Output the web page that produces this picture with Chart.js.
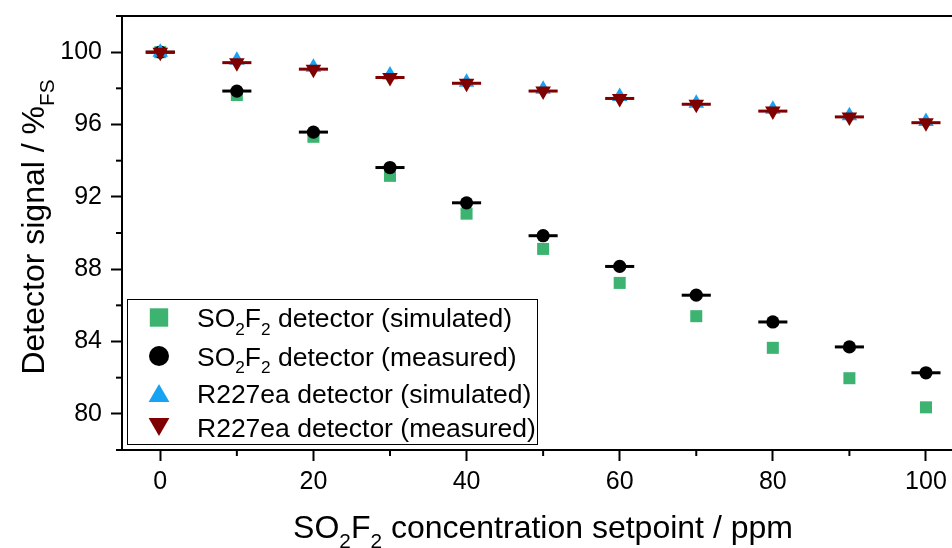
<!DOCTYPE html>
<html>
<head>
<meta charset="utf-8">
<script src="https://cdn.jsdelivr.net/npm/chart.js@4.4.0/dist/chart.umd.min.js"></script>
<style>
  html, body { margin: 0; padding: 0; background: #fff; }
</style>
</head>
<body>
<canvas id="chart" width="952" height="548"></canvas>
<script>
// setpoints in ppm
const setpoints = [0, 10, 20, 30, 40, 50, 60, 70, 80, 90, 100];

// detector signal in %FS
const so2f2Simulated = [100, 97.63, 95.32, 93.16, 91.07, 89.12, 87.24, 85.40, 83.65, 81.97, 80.36];
const so2f2Measured  = [100, 97.85, 95.58, 93.62, 91.67, 89.85, 88.15, 86.56, 85.08, 83.70, 82.27];
const r227Simulated  = [100, 99.55, 99.16, 98.74, 98.34, 97.95, 97.55, 97.18, 96.85, 96.49, 96.16];
const r227Measured   = [100, 99.42, 99.06, 98.60, 98.28, 97.85, 97.44, 97.12, 96.74, 96.42, 96.10];

// horizontal error (ppm) of the measured points
const so2f2SetpointErr = [1.9, 1.9, 1.9, 1.9, 1.9, 1.9, 1.9, 1.9, 1.9, 1.9, 1.9];
const r227SetpointErr  = [1.9, 1.9, 1.9, 1.9, 1.9, 1.9, 1.9, 1.9, 1.9, 1.9, 1.9];

const xMajorTicks = [0, 20, 40, 60, 80, 100];
const xMinorTicks = [10, 30, 50, 70, 90];
const yMajorTicks = [80, 84, 88, 92, 96, 100];
const yMinorTicks = [78, 82, 86, 90, 94, 98, 102];

const xTitle = 'SO_{2}F_{2} concentration setpoint / ppm';
const yTitle = 'Detector signal / %_{FS}';

const FONT = "'Liberation Sans', Arial, sans-serif";
Chart.defaults.font.family = FONT;
Chart.defaults.color = '#000';

// split "A_{b}C" into [text, isSub] parts
function parseRich(str) {
  const parts = [];
  const re = /_\{([^}]*)\}/g;
  let last = 0, m;
  while ((m = re.exec(str)) !== null) {
    if (m.index > last) parts.push([str.slice(last, m.index), false]);
    parts.push([m[1], true]);
    last = re.lastIndex;
  }
  if (last < str.length) parts.push([str.slice(last), false]);
  return parts;
}

function drawRich(ctx, str, x, y, size, align) {
  const parts = parseRich(str);
  const subSize = size * 0.65;
  let total = 0;
  for (const [t, sub] of parts) {
    ctx.font = (sub ? subSize : size) + 'px ' + FONT;
    total += ctx.measureText(t).width;
  }
  let cx = align === 'center' ? x - total / 2 : x;
  ctx.textAlign = 'left';
  ctx.textBaseline = 'alphabetic';
  for (const [t, sub] of parts) {
    ctx.font = (sub ? subSize : size) + 'px ' + FONT;
    ctx.fillText(t, cx, sub ? y + size * 0.3 : y);
    cx += ctx.measureText(t).width;
  }
}

const errorBars = {
  id: 'errorBars',
  afterDatasetDraw(chart, args) {
    const ds = chart.data.datasets[args.index];
    if (!ds.xErr) return;
    const xs = chart.scales.x, ys = chart.scales.y;
    const ctx = chart.ctx;
    ctx.save();
    ctx.strokeStyle = ds.errColor;
    ctx.lineWidth = 3;
    ds.data.forEach((p, i) => {
      const y = ys.getPixelForValue(p.y);
      ctx.beginPath();
      ctx.moveTo(xs.getPixelForValue(p.x - ds.xErr[i]), y);
      ctx.lineTo(xs.getPixelForValue(p.x + ds.xErr[i]), y);
      ctx.stroke();
    });
    ctx.restore();
  }
};

const frameAndText = {
  id: 'frameAndText',
  afterDraw(chart) {
    const ctx = chart.ctx;
    const a = chart.chartArea;
    const xs = chart.scales.x, ys = chart.scales.y;
    ctx.save();
    ctx.strokeStyle = '#000';
    // top frame line
    ctx.lineWidth = 2;
    ctx.beginPath();
    ctx.moveTo(a.left - 1, a.top);
    ctx.lineTo(a.right, a.top);
    ctx.stroke();
    // minor ticks
    for (const v of xMinorTicks) {
      const px = xs.getPixelForValue(v);
      ctx.beginPath();
      ctx.moveTo(px, a.bottom);
      ctx.lineTo(px, a.bottom + 6);
      ctx.stroke();
    }
    for (const v of yMinorTicks) {
      const py = ys.getPixelForValue(v);
      ctx.beginPath();
      ctx.moveTo(a.left, py);
      ctx.lineTo(a.left - 6, py);
      ctx.stroke();
    }
    // axis titles
    ctx.fillStyle = '#000';
    drawRich(ctx, xTitle, (a.left + a.right) / 2 + 6, 538, 32, 'center');
    ctx.save();
    ctx.translate(44, (a.top + a.bottom) / 2 - 6);
    ctx.rotate(-Math.PI / 2);
    drawRich(ctx, yTitle, 0, 0, 32, 'center');
    ctx.restore();

    // legend
    ctx.lineWidth = 1;
    ctx.strokeStyle = '#000';
    ctx.fillStyle = '#fff';
    ctx.fillRect(127.5, 299.5, 410, 145);
    ctx.strokeRect(127.5, 299.5, 410, 145);
    const rows = [317.5, 356, 393, 427];
    chart.data.datasets.forEach((ds, i) => {
      const y = rows[i];
      ctx.fillStyle = ds.backgroundColor;
      ctx.strokeStyle = ds.backgroundColor;
      Chart.helpers.drawPoint(ctx, {
        pointStyle: ds.pointStyle,
        rotation: ds.rotation || 0,
        radius: ds.legendRadius,
        borderWidth: 0
      }, 159, y + (ds.legendShift || 0));
      ctx.fillStyle = '#000';
      drawRich(ctx, ds.label, 197, y + 9.5, 26.5, 'left');
    });
    ctx.restore();
  }
};

const toPoints = (ys) => setpoints.map((x, i) => ({ x: x, y: ys[i] }));

new Chart(document.getElementById('chart'), {
  type: 'scatter',
  data: {
    datasets: [
      {
        label: 'SO_{2}F_{2} detector (simulated)',
        data: toPoints(so2f2Simulated),
        pointStyle: 'rect',
        pointRadius: 8.5,
        legendRadius: 13,
        backgroundColor: '#3cb371',
        borderWidth: 0,
        order: 3
      },
      {
        label: 'SO_{2}F_{2} detector (measured)',
        data: toPoints(so2f2Measured),
        pointStyle: 'circle',
        pointRadius: 6.6,
        legendRadius: 10,
        backgroundColor: '#000000',
        borderWidth: 0,
        xErr: so2f2SetpointErr,
        errColor: '#000000',
        order: 2
      },
      {
        label: 'R227ea detector (simulated)',
        data: toPoints(r227Simulated),
        pointStyle: 'triangle',
        pointRadius: 9,
        legendRadius: 12,
        legendShift: 3,
        backgroundColor: '#16a3f2',
        borderWidth: 0,
        order: 1
      },
      {
        label: 'R227ea detector (measured)',
        data: toPoints(r227Measured),
        pointStyle: 'triangle',
        rotation: 180,
        pointRadius: 9,
        legendRadius: 12,
        legendShift: -3,
        backgroundColor: '#800000',
        borderWidth: 0,
        xErr: r227SetpointErr,
        errColor: '#800000',
        order: 0
      }
    ]
  },
  options: {
    responsive: false,
    animation: false,
    devicePixelRatio: 1,
    layout: { autoPadding: false, padding: { top: 16, right: 0, left: 0, bottom: 0 } },
    plugins: {
      legend: { display: false },
      tooltip: { enabled: false }
    },
    scales: {
      x: {
        type: 'linear',
        min: -5,
        max: 103.4,
        afterBuildTicks: (s) => { s.ticks = xMajorTicks.map(v => ({ value: v })); },
        afterFit: (s) => { s.height = 98; s.paddingLeft = 0; s.paddingRight = 0; },
        ticks: { font: { size: 25 }, padding: 6, maxRotation: 0, color: '#000' },
        grid: { drawOnChartArea: false, drawTicks: true, tickLength: 11, tickWidth: 2, tickColor: '#000' },
        border: { display: true, width: 2, color: '#000' }
      },
      y: {
        type: 'linear',
        min: 78,
        max: 102,
        afterBuildTicks: (s) => { s.ticks = yMajorTicks.map(v => ({ value: v })); },
        afterFit: (s) => { s.width = 122; s.paddingTop = 0; s.paddingBottom = 0; },
        ticks: { font: { size: 25 }, padding: 9, color: '#000' },
        grid: { drawOnChartArea: false, drawTicks: true, tickLength: 11, tickWidth: 2, tickColor: '#000' },
        border: { display: true, width: 2, color: '#000' }
      }
    }
  },
  plugins: [errorBars, frameAndText]
});
</script>
</body>
</html>
